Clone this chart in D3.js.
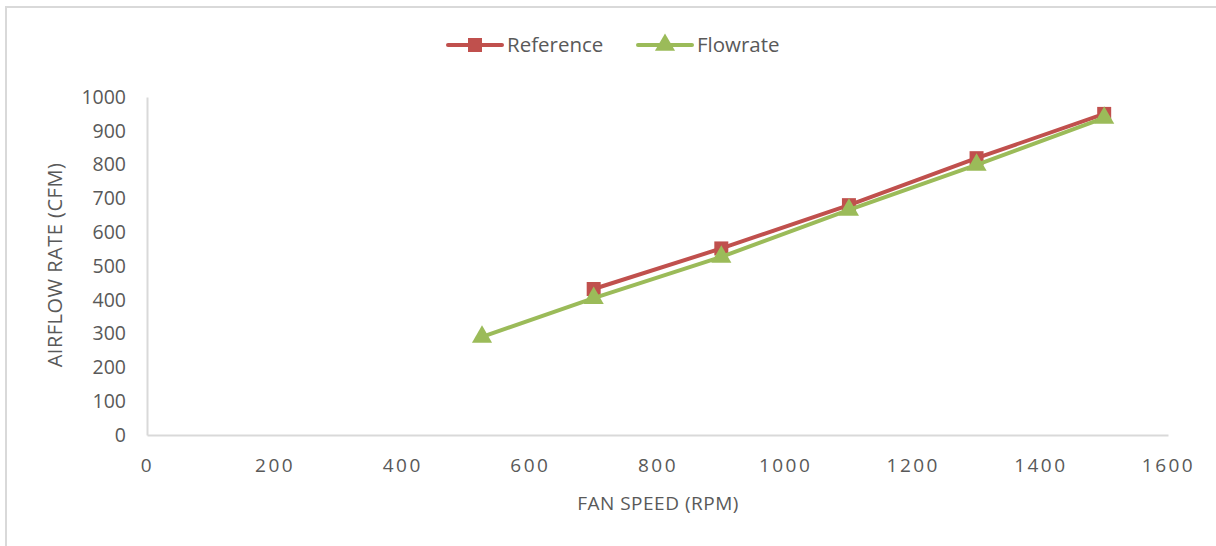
<!DOCTYPE html>
<html>
<head>
<meta charset="utf-8">
<script src="https://cdn.jsdelivr.net/npm/d3@7"></script>
<style>
  body { margin: 0; background: #fff; }
  svg { display: block; }
</style>
</head>
<body>
<div id="chart"></div>
<script>
"use strict";

// Data
const refSpeed = [700, 900, 1100, 1300, 1500];
const refFlow = [432, 552, 680, 819, 950];
const measSpeed = [525, 700, 900, 1100, 1300, 1500];
const measFlow = [290, 405, 527, 666, 799, 938];
const xTicks = [0, 200, 400, 600, 800, 1000, 1200, 1400, 1600];
const yTicks = [0, 100, 200, 300, 400, 500, 600, 700, 800, 900, 1000];
const seriesNames = ["Reference", "Flowrate"];

const width = 1216, height = 546;
const margin = {left: 147, right: 48, top: 97, bottom: 111};
const red = "#C0504D", green = "#9BBB59", textColor = "#595959";
const font = "'Open Sans', sans-serif";

let svg = d3.select("#chart").append("svg")
  .attr("width", width)
  .attr("height", height);

// Outer chart border (only left and top visible)
svg.append("path")
  .attr("d", "M6,546 V7 H1216")
  .attr("fill", "none")
  .attr("stroke", "#D9D9D9")
  .attr("stroke-width", 2);

let x = d3.scaleLinear().domain([0, 1600]).range([margin.left, width - margin.right]);
let y = d3.scaleLinear().domain([0, 1000]).range([height - margin.bottom, margin.top]);

// X axis
let xAxis = svg.append("g")
  .attr("transform", "translate(0," + y(0) + ")")
  .call(d3.axisBottom(x).tickValues(xTicks).tickFormat(d3.format("d")).tickSize(0).tickPadding(24));
xAxis.select(".domain").attr("stroke", "#D9D9D9").attr("stroke-width", 2);
xAxis.selectAll("text")
  .attr("font-family", font)
  .attr("font-size", "19px")
  .attr("letter-spacing", "2.5px")
  .attr("fill", textColor);

// Y axis
let yAxis = svg.append("g")
  .attr("transform", "translate(" + x(0) + ",0)")
  .call(d3.axisLeft(y).tickValues(yTicks).tickFormat(d3.format("d")).tickSize(0).tickPadding(21));
yAxis.select(".domain").attr("stroke", "#D9D9D9").attr("stroke-width", 2);
yAxis.selectAll("text")
  .attr("font-family", font)
  .attr("font-size", "19.5px")
  .attr("fill", textColor);

// Axis titles
svg.append("text")
  .attr("x", 658)
  .attr("y", 510)
  .attr("text-anchor", "middle")
  .attr("font-family", font)
  .attr("font-size", "19px")
  .attr("letter-spacing", "0.5px")
  .attr("fill", textColor)
  .text("FAN SPEED (RPM)");

svg.append("text")
  .attr("transform", "translate(62,265) rotate(-90)")
  .attr("text-anchor", "middle")
  .attr("font-family", font)
  .attr("font-size", "20px")
  .attr("letter-spacing", "0.5px")
  .attr("fill", textColor)
  .text("AIRFLOW RATE (CFM)");

let line = d3.line().x(d => x(d[0])).y(d => y(d[1]));
let square = d3.symbol().type(d3.symbolSquare).size(196);
let triangle = d3.symbol().type(d3.symbolTriangle).size(175);

function drawSeries(xs, ys, col, sym) {
  let pts = d3.zip(xs, ys);
  svg.append("path")
    .datum(pts)
    .attr("d", line)
    .attr("fill", "none")
    .attr("stroke", col)
    .attr("stroke-width", 4)
    .attr("stroke-linejoin", "round");
  svg.append("g").selectAll("path")
    .data(pts)
    .enter().append("path")
    .attr("d", sym)
    .attr("transform", d => "translate(" + x(d[0]) + "," + y(d[1]) + ")")
    .attr("fill", col);
}

drawSeries(refSpeed, refFlow, red, square);
drawSeries(measSpeed, measFlow, green, triangle);

// Legend
let legendItems = [
  {name: seriesNames[0], color: red, sym: square, x: 448},
  {name: seriesNames[1], color: green, sym: triangle, x: 638}
];
legendItems.forEach(function(item) {
  let g = svg.append("g").attr("transform", "translate(" + item.x + ",45)");
  g.append("line")
    .attr("x1", 0).attr("x2", 54)
    .attr("y1", 0).attr("y2", 0)
    .attr("stroke", item.color)
    .attr("stroke-width", 4)
    .attr("stroke-linecap", "round");
  g.append("path")
    .attr("d", item.sym)
    .attr("transform", "translate(27,0)")
    .attr("fill", item.color);
  g.append("text")
    .attr("x", 59)
    .attr("y", 7)
    .attr("font-family", font)
    .attr("font-size", "20.5px")
    .attr("fill", textColor)
    .text(item.name);
});
</script>
</body>
</html>
